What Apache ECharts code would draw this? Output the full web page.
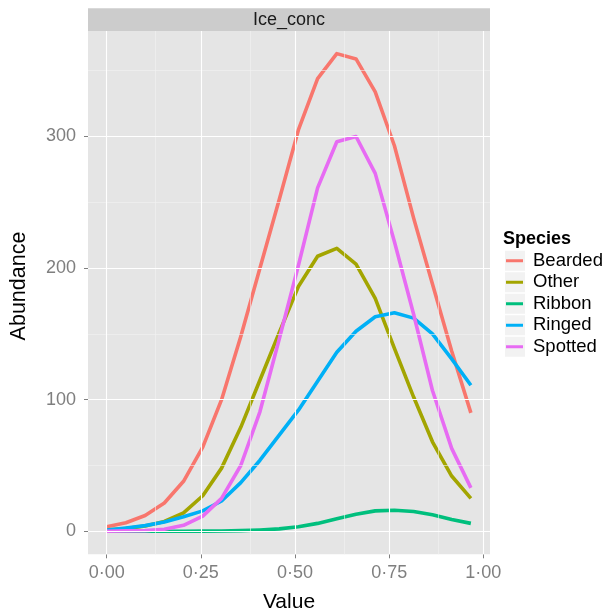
<!DOCTYPE html>
<html>
<head>
<meta charset="utf-8">
<script src="https://cdn.jsdelivr.net/npm/echarts@6/dist/echarts.min.js"></script>
<style>
html,body{margin:0;padding:0;background:#fff;}
#chart{width:608px;height:614px;}
</style>
</head>
<body>
<div id="chart"></div>
<script>
// ---- data ----
var facetLabel = "Ice_conc";
var xValues = [0, 0.051, 0.102, 0.153, 0.204, 0.255, 0.305, 0.356, 0.407, 0.458, 0.509, 0.560, 0.611, 0.662, 0.713, 0.764, 0.815, 0.865, 0.916, 0.967];
var speciesNames = ["Bearded", "Other", "Ribbon", "Ringed", "Spotted"];
var bearded = [3.5, 6.5, 12, 21.5, 38, 64, 100, 148, 200, 252, 305, 344, 363, 359, 334, 293, 238, 188, 137, 90];
var other   = [1, 2, 4, 7.5, 14, 27, 48, 79, 115, 151, 186, 209, 215, 203, 177, 139, 102, 68, 42, 25];
var ribbon  = [0, 0, 0, 0, 0, 0.1, 0.2, 0.5, 1, 1.8, 3.5, 6, 9.5, 13, 15.5, 16, 15, 12.5, 9, 6];
var ringed  = [1, 2.5, 4.3, 7, 11, 15.5, 23, 37, 54, 73, 92, 114, 136, 152, 163, 166, 162, 150, 131, 111];
var spotted = [0, 0.3, 0.5, 1.5, 4.5, 11.5, 25, 50, 91, 146, 202, 261, 296, 300, 272, 220, 165, 107, 63, 33];
var xTicks = [0, 0.25, 0.5, 0.75, 1];
var xMinor = [0.125, 0.375, 0.625, 0.875];
var yTicks = [0, 100, 200, 300];
var yMinor = [50, 150, 250, 350];
var xTitle = "Value";
var yTitle = "Abundance";
var legendTitle = "Species";

// ---- styling ----
var colors = ["#F8766D", "#A3A500", "#00BF7D", "#00B0F6", "#E76BF3"];
var FONT = "'Liberation Sans', Arial, Helvetica, sans-serif";
var seriesValues = [bearded, other, ribbon, ringed, spotted];

var chart = echarts.init(document.getElementById('chart'), null, {renderer: 'canvas'});

function pairs(vals) {
  return xValues.map(function (x, i) { return [x, vals[i]]; });
}

var gridLines = [];
xMinor.forEach(function (v) { gridLines.push({xAxis: v, lineStyle: {color: '#F2F2F2', width: 0.6, type: 'solid'}}); });
yMinor.forEach(function (v) { gridLines.push({yAxis: v, lineStyle: {color: '#F2F2F2', width: 0.6, type: 'solid'}}); });
xTicks.forEach(function (v) { gridLines.push({xAxis: v, lineStyle: {color: '#FFFFFF', width: 1.1, type: 'solid'}}); });
yTicks.forEach(function (v) { gridLines.push({yAxis: v, lineStyle: {color: '#FFFFFF', width: 1.1, type: 'solid'}}); });

var series = [{
  name: '__grid',
  type: 'line',
  data: [],
  z: 1,
  silent: true,
  markLine: {
    silent: true,
    symbol: ['none', 'none'],
    label: {show: false},
    emphasis: {disabled: true},
    animation: false,
    data: gridLines
  }
}];
speciesNames.forEach(function (name, k) {
  series.push({
    name: name,
    type: 'line',
    data: pairs(seriesValues[k]),
    showSymbol: false,
    symbol: 'none',
    z: 3,
    color: colors[k],
    lineStyle: {color: colors[k], width: 3.6, cap: 'butt', join: 'round'},
    emphasis: {disabled: true},
    silent: true
  });
});

var legendCenters = speciesNames.map(function (n, k) { return 260.75 + k * 21.5; });
var graphics = [
  {type: 'rect', shape: {x: 88, y: 8.3, width: 402, height: 22.7}, style: {fill: '#CCCCCC'}, z: 0},
  {type: 'text', x: 289, y: 20, style: {text: facetLabel, font: '18px ' + FONT, fill: '#1A1A1A', textAlign: 'center', textVerticalAlign: 'middle'}, z: 1},
  {type: 'text', x: 289, y: 602, style: {text: xTitle, font: '21px ' + FONT, fill: '#000', textAlign: 'center', textVerticalAlign: 'middle'}, z: 1},
  {type: 'text', x: 19.5, y: 286, rotation: Math.PI / 2, style: {text: yTitle, font: '21.5px ' + FONT, fill: '#000', textAlign: 'center', textVerticalAlign: 'middle'}, z: 1},
  {type: 'text', x: 503, y: 239, style: {text: legendTitle, font: 'bold 18px ' + FONT, fill: '#000', textAlign: 'left', textVerticalAlign: 'middle'}, z: 1}
];
legendCenters.forEach(function (c) {
  graphics.push({type: 'rect', shape: {x: 505, y: c - 10, width: 20, height: 20}, style: {fill: '#F2F2F2'}, z: 0});
});

var option = {
  animation: false,
  backgroundColor: '#FFFFFF',
  textStyle: {fontFamily: FONT},
  grid: {left: 88, top: 31, width: 402, height: 523.3, show: true, backgroundColor: '#E5E5E5', borderWidth: 0, containLabel: false},
  xAxis: {
    type: 'value',
    min: -0.0497, max: 1.0178,
    axisLine: {show: false, onZero: false},
    axisTick: {show: true, length: 4, customValues: xTicks, lineStyle: {color: '#7F7F7F', width: 1}},
    axisLabel: {show: true, customValues: xTicks, margin: 10, color: '#7F7F7F', fontSize: 18, fontFamily: FONT,
      formatter: function (v) { return v.toFixed(2).replace('.', '\u00B7'); }},
    splitLine: {show: false},
    minorSplitLine: {show: false}
  },
  yAxis: {
    type: 'value',
    min: -17.5, max: 380.2,
    axisLine: {show: false, onZero: false},
    axisTick: {show: true, length: 4, customValues: yTicks, lineStyle: {color: '#7F7F7F', width: 1}},
    axisLabel: {show: true, customValues: yTicks, margin: 12, color: '#7F7F7F', fontSize: 18, fontFamily: FONT},
    splitLine: {show: false},
    minorSplitLine: {show: false}
  },
  legend: {
    show: true,
    orient: 'vertical',
    left: 506,
    top: 250,
    itemWidth: 17,
    itemHeight: 3,
    itemGap: 0,
    icon: 'rect',
    padding: 0,
    selectedMode: false,
    data: speciesNames,
    textStyle: {fontSize: 18.5, color: '#000', fontFamily: FONT, lineHeight: 21.5, padding: [0, 0, 0, 5]}
  },
  graphic: graphics,
  series: series
};
chart.setOption(option);
</script>
</body>
</html>
